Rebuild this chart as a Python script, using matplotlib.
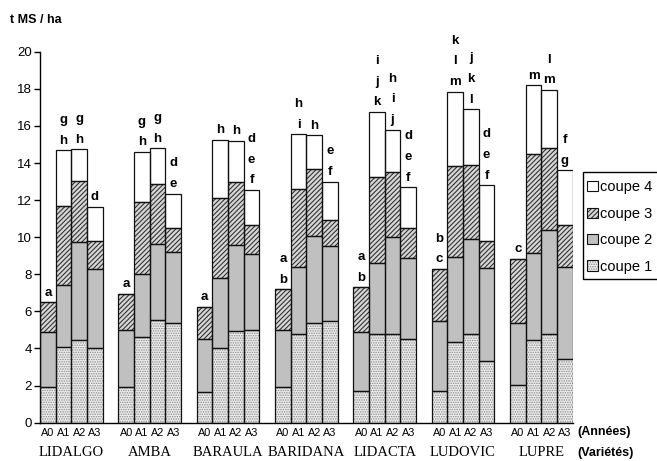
import matplotlib
matplotlib.use('Agg')
import matplotlib.pyplot as plt
import matplotlib.transforms as mtransforms
from matplotlib.patches import Patch, Rectangle
from matplotlib.legend_handler import HandlerTuple

plt.rcParams['font.family'] = ['Liberation Sans', 'DejaVu Sans']
plt.rcParams['hatch.linewidth'] = 0.7

varieties = ['LIDALGO', 'AMBA', 'BARAULA', 'BARIDANA', 'LIDACTA', 'LUDOVIC', 'LUPRE']
years = ['A0', 'A1', 'A2', 'A3']

coupe1 = [1.9, 4.1, 4.45, 4.0, 1.95, 4.6, 5.55, 5.35, 1.65, 4.05, 4.95, 5.0,
          1.95, 4.8, 5.4, 5.5, 1.7, 4.8, 4.8, 4.5, 1.7, 4.35, 4.8, 3.3,
          2.05, 4.45, 4.8, 3.45]
coupe2 = [3.0, 3.35, 5.3, 4.3, 3.05, 3.4, 4.1, 3.85, 2.85, 3.75, 4.65, 4.1,
          3.05, 3.6, 4.65, 4.05, 3.2, 3.8, 5.2, 4.4, 3.8, 4.6, 5.1, 5.05,
          3.35, 4.7, 5.6, 4.95]
coupe3 = [1.6, 4.25, 3.3, 1.5, 1.95, 3.9, 3.2, 1.3, 1.75, 4.3, 3.4, 1.55,
          2.2, 4.2, 3.65, 1.4, 2.4, 4.65, 3.5, 1.6, 2.8, 4.9, 4.0, 1.45,
          3.45, 5.35, 4.4, 2.25]
coupe4 = [0, 3.0, 1.7, 1.85, 0, 2.7, 1.95, 1.85, 0, 3.15, 2.2, 1.9,
          0, 2.95, 1.8, 2.05, 0, 3.5, 2.3, 2.2, 0, 4.0, 3.0, 3.0,
          0, 3.7, 3.15, 2.95]

# significance letters, listed top to bottom
letters = ['a', 'gh', 'gh', 'd', 'a', 'gh', 'gh', 'de', 'a', 'h', 'h', 'def',
           'ab', 'hi', 'h', 'ef', 'ab', 'ijk', 'hij', 'def', 'bc', 'klm', 'jkl', 'def',
           'c', 'm', 'lm', 'fg']

series = [coupe1, coupe2, coupe3, coupe4]
labels = ['coupe 1', 'coupe 2', 'coupe 3', 'coupe 4']
styles = [
    dict(face='#ececec', hatch='.......', hcol='#8a8a8a'),
    dict(face='#c0c0c0', hatch=None, hcol='#c0c0c0'),
    dict(face='#d4d4d4', hatch='///////', hcol='#222222'),
    dict(face='white', hatch=None, hcol='white'),
]

fig = plt.figure(figsize=(6.57, 4.61), dpi=100)
ax = fig.add_axes([0.0609, 0.0831, 0.8108, 0.8047])

n_per = len(years)
pos = [g * (n_per + 1) + j + 0.5 for g in range(len(varieties)) for j in range(n_per)]

bottom = [0.0] * len(pos)
handles = []
for vals, st, lab in zip(series, styles, labels):
    ax.bar(pos, vals, width=1.0, bottom=bottom, color=st['face'],
           hatch=st['hatch'], edgecolor=st['hcol'], linewidth=0, zorder=2)
    ax.bar(pos, vals, width=1.0, bottom=bottom, fill=False,
           edgecolor='#111111', linewidth=0.9, zorder=3)
    h1 = Patch(facecolor=st['face'], hatch=st['hatch'], edgecolor=st['hcol'], linewidth=0)
    h2 = Patch(fill=False, edgecolor='#111111', linewidth=0.8)
    handles.append((h1, h2))
    bottom = [b + v for b, v in zip(bottom, vals)]

for x, top, lt in zip(pos, bottom, letters):
    for k, ch in enumerate(reversed(lt)):
        ax.annotate(ch, xy=(x, top), xytext=(0, 4.7 + k * 14.9),
                    textcoords='offset points', ha='center', va='baseline',
                    fontsize=9.5, fontweight='bold', annotation_clip=False)

ax.set_xlim(0, len(varieties) * (n_per + 1) - 1)
ax.set_ylim(0, 20)
ax.set_yticks(range(0, 21, 2))
ax.tick_params(axis='y', direction='out', length=4, width=1, labelsize=9.5, pad=2)
ax.set_xticks(pos)
ax.set_xticklabels(years * len(varieties), fontsize=7.8)
ax.tick_params(axis='x', length=0, pad=4)
for s in ['top', 'right']:
    ax.spines[s].set_visible(False)
for s in ['left', 'bottom']:
    ax.spines[s].set_linewidth(1)

trans = mtransforms.blended_transform_factory(ax.transData, ax.transAxes)
for g, name in enumerate(varieties):
    cx = g * (n_per + 1) + n_per / 2
    ax.text(cx, -0.081, name, transform=trans, ha='center', va='center',
            fontsize=10.5, family=['Liberation Serif', 'DejaVu Serif'])

fig.text(577 / 657, 1 - 432 / 461, '(Années)', fontsize=9, fontweight='bold',
         ha='left', va='center')
fig.text(577 / 657, 1 - 453 / 461, '(Variétés)', fontsize=9, fontweight='bold',
         ha='left', va='center')
fig.text(10 / 657, 1 - 20 / 461, 't MS / ha', fontsize=9, fontweight='bold',
         ha='left', va='center')

leg = fig.legend(handles=handles[::-1], labels=labels[::-1], loc='upper left',
                 bbox_to_anchor=(583 / 657, 1 - 176 / 461), bbox_transform=fig.transFigure,
                 frameon=False, borderaxespad=0,
                 handlelength=0.7, handleheight=0.7, handletextpad=0.2,
                 labelspacing=0.85, borderpad=0.3, fontsize=10.5,
                 handler_map={tuple: HandlerTuple(ndivide=1)})
fig.add_artist(Rectangle((583 / 657, 1 - 279 / 461), 82 / 657, 107 / 461,
                         transform=fig.transFigure, fill=False, edgecolor='black',
                         linewidth=1, clip_on=False))

fig.savefig('out.png', dpi=100)
